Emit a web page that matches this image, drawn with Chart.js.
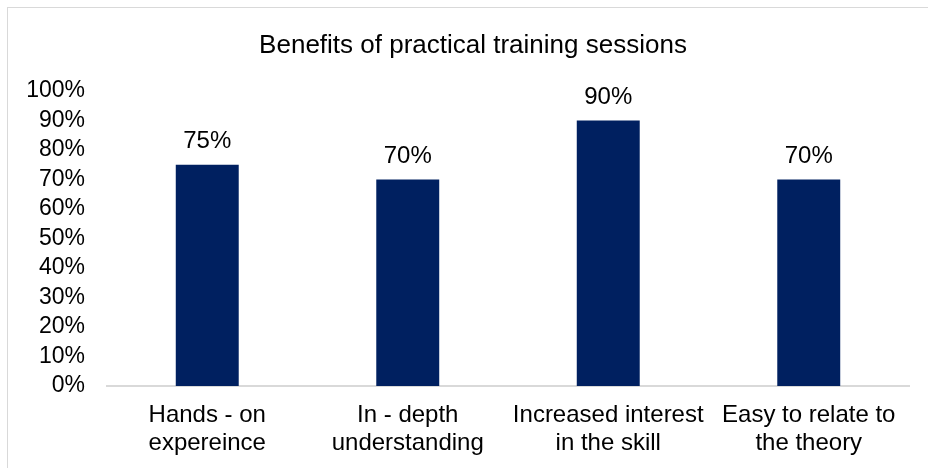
<!DOCTYPE html>
<html>
<head>
<meta charset="utf-8">
<script src="https://cdn.jsdelivr.net/npm/chart.js@4/dist/chart.umd.min.js"></script>
<style>
  html, body { margin: 0; padding: 0; background: #fff; }
  #wrap { position: absolute; left: 0; top: 0; width: 928px; height: 468px; }
</style>
</head>
<body>
<div id="wrap"><canvas id="c" width="928" height="468"></canvas></div>
<script>
const categories = [
  ["Hands - on", "expereince"],
  ["In - depth", "understanding"],
  ["Increased interest", "in the skill"],
  ["Easy to relate to", "the theory"]
];
const values = [75, 70, 90, 70];
const yTicks = [0, 10, 20, 30, 40, 50, 60, 70, 80, 90, 100];
const chartTitle = "Benefits of practical training sessions";

const FONT = "'Liberation Sans', Arial, sans-serif";

const borderPlugin = {
  id: 'outerBorder',
  beforeDraw(chart) {
    const ctx = chart.ctx;
    ctx.save();
    ctx.fillStyle = '#fff';
    ctx.fillRect(0, 0, chart.width, chart.height);
    ctx.strokeStyle = '#d9d9d9';
    ctx.lineWidth = 1;
    ctx.strokeRect(7.5, 7.5, chart.width + 10, chart.height + 10);
    ctx.restore();
  }
};

const titlePlugin = {
  id: 'chartTitleText',
  afterDraw(chart) {
    const ctx = chart.ctx;
    ctx.save();
    ctx.font = "26px " + FONT;
    ctx.fillStyle = '#000';
    ctx.textAlign = 'center';
    ctx.textBaseline = 'alphabetic';
    ctx.fillText(chartTitle, 473, 53);
    ctx.restore();
  }
};

const labelPlugin = {
  id: 'barLabels',
  afterDatasetsDraw(chart) {
    const ctx = chart.ctx;
    const meta = chart.getDatasetMeta(0);
    ctx.save();
    ctx.font = "24px " + FONT;
    ctx.fillStyle = '#000';
    ctx.textAlign = 'center';
    ctx.textBaseline = 'alphabetic';
    meta.data.forEach((bar, i) => {
      ctx.fillText(values[i] + '%', bar.x, bar.y - 17);
    });
    ctx.restore();
  }
};

new Chart(document.getElementById('c'), {
  type: 'bar',
  data: {
    labels: categories,
    datasets: [{
      data: values,
      backgroundColor: '#002060',
      borderWidth: 0,
      categoryPercentage: 1,
      barPercentage: 0.314
    }]
  },
  options: {
    responsive: false,
    animation: false,
    devicePixelRatio: 1,
    layout: { padding: { left: 0, right: 19, top: 91, bottom: 0 } },
    plugins: {
      legend: { display: false },
      tooltip: { enabled: false },
      title: { display: false }
    },
    scales: {
      x: {
        grid: { display: false, drawTicks: false },
        border: { display: true, color: '#d9d9d9', width: 2 },
        ticks: {
          color: '#000',
          font: { family: FONT, size: 24, lineHeight: 1.15 },
          padding: 16,
          maxRotation: 0,
          autoSkip: false
        },
        afterFit(scale) { scale.height = 82; }
      },
      y: {
        min: 0,
        max: 100,
        grid: { display: false, drawTicks: false },
        border: { display: false },
        afterBuildTicks(scale) { scale.ticks = yTicks.map(v => ({ value: v })); },
        ticks: {
          color: '#000',
          font: { family: FONT, size: 23 },
          padding: 22,
          autoSkip: false,
          callback: v => v + '%'
        },
        afterFit(scale) { scale.width = 107; }
      }
    }
  },
  plugins: [borderPlugin, titlePlugin, labelPlugin]
});
</script>
</body>
</html>
